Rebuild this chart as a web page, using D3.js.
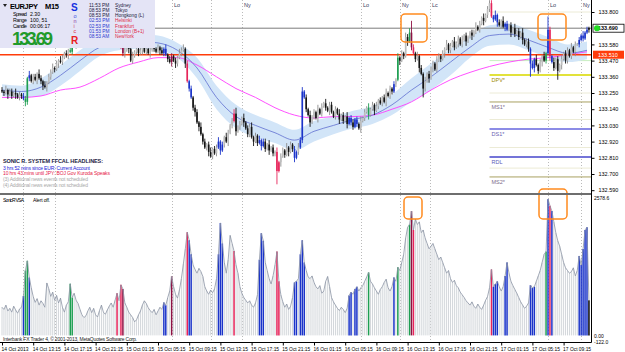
<!DOCTYPE html>
<html><head><meta charset="utf-8">
<script src="https://cdn.jsdelivr.net/npm/d3@7"></script>
<style>
body{margin:0;background:#fff}
svg{display:block;font-family:"Liberation Sans",Arial,sans-serif}
</style></head><body>
<svg id="chart" width="625" height="352"></svg>
<script>
// EURJPY M15 - closes in pips above 133.00, one per bar
var closes = [
  26,25,27,24,26,23,25,24,22,24, 23,21,19,35,37,33,36,34,38,35,
  33,30,29,32,36,39,42,41,45,47, 46,49,52,51,54,53,59,57,60,58,
  61,60,62,59,61,63,60,58,61,64, 62,60,63,61,59,62,64,61,60,62,
  59,56,52,54,57,55,47,50,53,55, 52,54,56,53,55,52,54,57,55,53,
  56,54,52,55,51,48,46,50,47,45, 49,52,54,55,45,33,28,22,15,12,
  5,2,-3,-8,-12,-10,-15,-18,-13,-16, -12,-8,-14,-10,-5,-8,-2,3,6,11,
  -1,2,4,8,5,1,-3,2,-5,-8, -4,-9,-7,-11,-8,-13,-10,-14,-12,-16,
  -15,-28,-22,-18,-14,-17,-12,-15,-10,-13, -19,-15,-12,-7,26,22,14,10,5,9,
  12,8,14,11,16,18,15,13,17,12, 9,14,11,7,10,6,9,4,8,5,
  2,7,4,1,6,8,12,15,10,14, 17,13,16,20,18,22,19,25,23,28,
  26,31,34,49,47,52,50,63,60,66, 56,52,48,50,42,38,28,33,38,35,
  42,45,41,47,50,48,52,55,58,54, 57,60,56,59,62,58,61,64,60,63,
  66,64,67,70,68,72,76,74,78,82, 86,77,75,78,73,71,74,70,72,68,
  71,66,69,65,67,63,66,61,58,60, 55,45,42,48,44,40,46,50,47,52,
  68,50,46,42,48,40,44,48,52,47, 54,50,56,53,58,58,61,64,62,66,
  68,69
];
var firstOpen = 27;
// wick lengths in pips, one digit per bar, ten bars per chunk
var upWick = [
  "2131221312","1221312213","2131223121","3212131223","2312213121",
  "3121231212","2132121312","1213212131","2121312212","1323121212",
  "2131212312","2312132123","4121312231","2131221312","1312213121",
  "2132312131","2131213122","1213121312","2121312131","2131212312",
  "1213121323","8213121312","1213212131","2131213121","1213121312",
  "2213121312","1213121312","2121312131","9213121312","2131212131","21"].join('');
var downWick = [
  "1213121312","2132212131","2313121213","1212312121","2121312123",
  "1312121312","2123131212","2131213121","1312121313","2121312123",
  "1312123121","2131213121","3121312213","1213121312","2913121312",
  "3121212131","2131212131","1213121312","2121312131","1312121312",
  "2121312131","2121316213","1312121312","2121312131","1312121312",
  "2121312131","1312121312","2913121312","1312161312","2121312121","12"].join('');
var volumes = [
  520,480,560,450,500,430,540,470,410,490,520,730,1200,1380,1070,880,720,610,680,560,
  640,590,520,970,860,720,800,650,740,600,690,520,430,560,620,955,700,780,650,590,
  480,380,330,360,450,520,420,500,380,340,460,560,430,390,470,540,600,520,650,780,
  640,935,860,600,520,430,380,330,250,290,380,450,560,640,590,510,460,420,480,380,
  450,520,480,610,560,700,820,1090,900,760,690,840,1050,1320,1600,1910,1760,1500,1300,1220,
  1150,1240,1180,1090,900,820,760,840,790,860,1050,1500,2080,1700,1350,1150,1400,1850,1700,1560,
  1300,1150,900,780,700,650,600,640,560,520,600,750,1400,1890,1750,1350,1200,1050,950,1100,
  1300,1550,1000,750,620,520,580,480,540,700,980,1000,1050,1500,1760,1350,1200,1080,1050,1100,
  980,900,860,920,780,820,1000,1090,900,700,620,560,500,460,520,480,420,500,740,800,
  760,860,900,820,880,920,1000,1080,1165,1000,950,880,820,760,850,900,980,1040,880,820,
  900,1070,1000,1260,1200,1350,1500,1800,2000,2050,2300,1950,2150,2050,2100,1900,1950,1800,1700,1600,
  1650,1700,1600,1500,1400,1450,1350,1250,1150,1200,1050,980,1020,920,880,800,750,700,640,600,
  560,620,540,500,580,520,480,560,650,720,880,1220,900,950,1000,900,820,900,1100,1350,
  1150,1000,920,850,780,700,620,560,500,540,600,930,880,900,1000,1100,1200,1350,1500,1550,
  2520,2400,2300,2100,1900,1750,1650,1500,1350,1250,1200,1150,1180,1250,1100,1200,1470,1300,1600,1950,
  2000,650
];
var blueBars = [11,14,83,84,96,97,111,112,113,132,133,134,150,151,153,154,155,178,179,181,182,201,252,253,254,258,259,271,272,273,280,282,296,297,298,299,300];
var redBars = [59,61,95,119,141,142,211,251,281];
var greenBars = [12,13,35,36,188,203,209,279];
var maroonBars = [62,87,210];
var blackBars = [301];

// moving averages read every 10 bars (pips above 133.00)
var maStep = 10;
var emaFast  = [27,26,29,37,47,56,59,60,59,54,42,22,9,3,-2,-7,-1,3,7,10,17,27,36,46,56,64,65,61,56,52,54];
var dragonHi = [31,30,35,44,54,62,64,65,64,59,49,30,17,10,5,0,6,9,13,16,24,35,45,55,63,71,72,68,63,58,60];
var dragonLo = [23,22,23,30,40,50,54,55,54,49,35,14,1,-5,-9,-14,-8,-3,1,4,10,19,27,37,49,57,58,54,49,46,48];
var emaSlow  = [22,22,23,27,29,35,42,46,49,49,44,36,28,22,15,10,8,9,9,10,14,19,27,34,39,43,46,48,49,51,53];

var priceTicks = [133.80,133.58,133.47,133.36,133.25,133.14,133.03,132.92,132.81,132.70,132.59];
var timeBars = [0,16,32,48,64,80,96,112,128,144,160,176,192,208,224,240,256,272,288];
var timeLabels = ["14 Oct 2013","14 Oct 13:15","14 Oct 17:15","14 Oct 21:15","15 Oct 01:15","15 Oct 05:15",
  "15 Oct 09:15","15 Oct 13:15","15 Oct 17:15","15 Oct 21:15","16 Oct 01:15","16 Oct 05:15","16 Oct 09:15",
  "16 Oct 13:15","16 Oct 17:15","16 Oct 21:15","17 Oct 01:15","17 Oct 05:15","17 Oct 09:15"];
// the first two session labels sit under the info box, so they stay blank
var sessionBars = [11,27,87,107,123,184,204,219.5,280,297];
var sessionNames = ["","","Lo","","Ny","Lo","Ny","Lc","Lo","Ny"];
var pivotNames = ["DPV*","MS1*","DS1*","RDL","MS2*"];
var pivotPrices = [133.372,133.189,133.006,132.816,132.680];
var pivotColors = ["#e2e23a","#a8a060","#8c8ce6","#7474d8","#a8a060"];
var pivotText = ["#a08a00","#7a6a8a","#6a60b0","#5a5ab8","#7a6a8a"];
var faintLevels = [133.80,133.47,133.25,133.07,132.88,132.74];
var bidPrice = 133.69, redLevel = 133.51;
var volMax = 2578.6, volMin = -122.0;
var cities = ["Sydney","Tokyo","Hongkong (L)","Helsinki","Frankfurt","London (B+1)","NewYork"];
var cityTimes = ["11:53 PM","08:53 PM","08:53 PM","02:53 PM","02:53 PM","01:53 PM","08:53 AM"];
var headlines = ["3 hrs 52 mins since EUR: Current Account","10 hrs 43 mins until JPY: BOJ Gov Kuroda Speaks",
  "(3)  Additional news events not scheduled","(4)  Additional news events not scheduled"];

var svg = d3.select('#chart');
var right = 591, panelBot = 193.5, volTop = 196, volBot = 342;
var narrow = '"Liberation Sans Narrow","Liberation Sans",Arial,sans-serif';

var x = d3.scaleLinear().domain([0, 301]).range([2, 2 + 301 * 1.95]);
var y = d3.scaleLinear().domain([132.70, 133.80]).range([174, 12]);
var vy = d3.scaleLinear().domain([volMin, volMax]).range([volBot, volTop]);
var py = function (p) { return y(133 + p / 100); };

var signal = closes.map(function () { return null; });
blueBars.forEach(function (i) { signal[i] = 'b'; });
redBars.forEach(function (i) { signal[i] = 'r'; });
greenBars.forEach(function (i) { signal[i] = 'g'; });
maroonBars.forEach(function (i) { signal[i] = 'm'; });
blackBars.forEach(function (i) { signal[i] = 'k'; });
var sigColor = {b: '#1b34c9', r: '#e6245a', g: '#1e9e52', m: '#8e1244', k: '#000'};

var bars = closes.map(function (c, i) {
  var o = i ? closes[i - 1] : firstOpen;
  var hw = +upWick[i] || 1, lw = +downWick[i] || 1;
  return {i: i, o: o, c: c, h: Math.max(o, c) + hw, l: Math.min(o, c) - lw, s: signal[i]};
});

svg.append('defs').append('clipPath').attr('id', 'topclip')
  .append('rect').attr('x', 0).attr('y', 0).attr('width', right).attr('height', panelBot);

// session lines
svg.selectAll('.sess').data(sessionBars).enter().append('line')
  .attr('x1', function (d) { return Math.round(x(d)) + 0.5; })
  .attr('x2', function (d) { return Math.round(x(d)) + 0.5; })
  .attr('y1', 0).attr('y2', volBot)
  .style('stroke', '#a8a8a8').style('stroke-width', 0.8).style('stroke-dasharray', '1,2');

var pricePanel = svg.append('g').attr('clip-path', 'url(#topclip)');

// faint levels and pivots on the right
pricePanel.selectAll('.faint').data(faintLevels).enter().append('line')
  .attr('x1', x(250)).attr('x2', right).attr('y1', function (d) { return y(d); }).attr('y2', function (d) { return y(d); })
  .style('stroke', function (d, i) { return i == 1 ? '#c8eec0' : '#ecebd6'; }).style('stroke-width', 1);
pricePanel.selectAll('.piv').data(pivotPrices).enter().append('line')
  .attr('x1', x(250)).attr('x2', right).attr('y1', function (d) { return y(d); }).attr('y2', function (d) { return y(d); })
  .style('stroke', function (d, i) { return pivotColors[i]; })
  .style('stroke-width', function (d, i) { return (i == 1 || i == 4) ? 1 : 2; });
pricePanel.selectAll('.pivt').data(pivotPrices).enter().append('text')
  .attr('x', x(250) + 2).attr('y', function (d) { return y(d) + 7; })
  .text(function (d, i) { return pivotNames[i]; })
  .style('font-size', '5.5px').style('fill', function (d, i) { return pivotText[i]; });

// dragon band and averages
var maPts = function (arr) { return arr.map(function (v, k) { return [x(k * maStep), py(v)]; }); };
pricePanel.append('path')
  .attr('d', d3.area().x(function (d, k) { return x(k * maStep); })
    .y0(function (d, k) { return py(dragonLo[k]); }).y1(function (d) { return py(d); })
    .curve(d3.curveMonotoneX)(dragonHi))
  .style('fill', '#d2e5f8');
pricePanel.append('path').attr('d', d3.line().curve(d3.curveMonotoneX)(maPts(emaSlow)))
  .style('fill', 'none').style('stroke', '#ff3cff').style('stroke-width', 0.9);
pricePanel.append('path').attr('d', d3.line().curve(d3.curveMonotoneX)(maPts(emaFast)))
  .style('fill', 'none').style('stroke', '#5f6fd0').style('stroke-width', 0.8);

// horizontal price lines
pricePanel.append('line').attr('x1', 0).attr('x2', right).attr('y1', y(bidPrice)).attr('y2', y(bidPrice))
  .style('stroke', '#7c7c7c').style('stroke-width', 1);
pricePanel.append('line').attr('x1', 0).attr('x2', right).attr('y1', y(redLevel)).attr('y2', y(redLevel))
  .style('stroke', '#ff3c0a').style('stroke-width', 1.6);

// candles
var candle = pricePanel.selectAll('.candle').data(bars).enter().append('g');
candle.append('line')
  .attr('x1', function (d) { return x(d.i); }).attr('x2', function (d) { return x(d.i); })
  .attr('y1', function (d) { return py(d.h); }).attr('y2', function (d) { return py(d.l); })
  .style('stroke', function (d) { return d.s ? sigColor[d.s] : (d.c >= d.o ? '#8c8c8c' : '#141414'); })
  .style('stroke-width', 0.9);
candle.append('rect')
  .attr('x', function (d) { return x(d.i) - 0.8; }).attr('width', 1.6)
  .attr('y', function (d) { return py(Math.max(d.o, d.c)); })
  .attr('height', function (d) { return Math.max(1, Math.abs(py(d.o) - py(d.c))); })
  .style('fill', function (d) { return d.s ? sigColor[d.s] : (d.c >= d.o ? '#bebebe' : '#141414'); });

// session labels
svg.selectAll('.sessl').data(sessionBars.filter(function (d, i) { return sessionNames[i]; }))
  .enter().append('text')
  .attr('x', function (d) { return Math.round(x(d)) + 2; }).attr('y', 7)
  .text(function (d) { return sessionNames[sessionBars.indexOf(d)]; })
  .style('font-size', '5.5px').style('fill', '#3a3a5a');

// volume panel
var vol = svg.append('g');
vol.selectAll('.vb').data(volumes).enter().append('line')
  .attr('x1', function (d, i) { return x(i); }).attr('x2', function (d, i) { return x(i); })
  .attr('y1', vy(0)).attr('y2', function (d) { return vy(d); })
  .style('stroke', function (d, i) { return signal[i] ? sigColor[signal[i]] : '#d3d7db'; })
  .style('stroke-width', function (d, i) { return signal[i] ? 1.5 : 1; });
vol.append('path')
  .attr('d', d3.line().x(function (d, i) { return x(i); }).y(function (d) { return vy(d); })(volumes))
  .style('fill', 'none').style('stroke', '#8a93a3').style('stroke-width', 0.8);

// orange highlight boxes
var boxes = [[401, 14, 26, 28], [538, 14, 28, 26], [404, 197, 18, 22], [539, 189, 28, 30]];
svg.selectAll('.ob').data(boxes).enter().append('rect')
  .attr('x', function (d) { return d[0]; }).attr('y', function (d) { return d[1]; })
  .attr('width', function (d) { return d[2]; }).attr('height', function (d) { return d[3]; })
  .attr('rx', 4).style('fill', 'none').style('stroke', '#ff8a1e').style('stroke-width', 1.5);

// frame
svg.append('rect').attr('x', 0).attr('y', 193).attr('width', right).attr('height', 2).style('fill', '#6e6e6e');
svg.append('line').attr('x1', right + 0.5).attr('x2', right + 0.5).attr('y1', 0).attr('y2', volBot + 0.5)
  .style('stroke', '#000');
svg.append('line').attr('x1', 0).attr('x2', right + 0.5).attr('y1', volBot + 0.5).attr('y2', volBot + 0.5)
  .style('stroke', '#000');

// price axis
var pa = svg.append('g').attr('transform', 'translate(' + (right + 0.5) + ',0)')
  .call(d3.axisRight(y).tickValues(priceTicks).tickFormat(d3.format('.3f')).tickSize(3).tickPadding(4));
pa.select('.domain').remove();
pa.selectAll('text').style('font-size', '5.5px').style('font-family', '"Liberation Sans",Arial,sans-serif');
pa.selectAll('line').style('stroke', '#000');

svg.append('rect').attr('x', 593).attr('y', y(bidPrice) - 4).attr('width', 31).attr('height', 8)
  .style('fill', '#fff').style('stroke', '#000').style('stroke-width', 0.8);
svg.append('text').attr('x', 598).attr('y', y(bidPrice) + 2).text(d3.format('.3f')(bidPrice))
  .style('font-size', '5.5px').style('font-weight', 'bold');
svg.append('rect').attr('x', 593).attr('y', y(redLevel) - 4).attr('width', 31).attr('height', 8)
  .style('fill', '#ff3c0a');
svg.append('text').attr('x', 598).attr('y', y(redLevel) + 2).text(d3.format('.3f')(redLevel))
  .style('font-size', '5.5px').style('fill', '#fff');
svg.append('circle').attr('cx', 597).attr('cy', y(bidPrice)).attr('r', 3).style('fill', '#22dd22');

// volume axis
[[volMax, '2578.6', 1.5], [0, '0.00', 0.5], [volMin, '-122.0', -0.5]].forEach(function (t) {
  svg.append('text').attr('x', 594).attr('y', vy(t[0]) + 2 + t[2]).text(t[1]).style('font-size', '5px');
});

// time axis
var ta = svg.append('g').attr('transform', 'translate(0,' + (volBot + 0.5) + ')')
  .call(d3.axisBottom(x).tickValues(timeBars).tickFormat(function (d, i) { return timeLabels[i]; }).tickSize(3));
ta.select('.domain').remove();
ta.selectAll('text').style('font-size', '5.2px').style('text-anchor', 'start')
  .style('font-family', narrow).attr('dy', '0.55em').attr('x', -1)
  .attr('textLength', function (d, i) { return i ? 28 : 27; }).attr('lengthAdjust', 'spacingAndGlyphs');
ta.selectAll('line').style('stroke', '#000');

svg.append('text').attr('x', 3).attr('y', 340.5)
  .text('Interbank FX Trader 4, \u00a9 2001-2013, MetaQuotes Software Corp.')
  .attr('textLength', 134).style('font-size', '5px').style('fill', '#222');
svg.append('text').attr('x', 3).attr('y', 202).text('SonicR VSA').attr('textLength', 21).style('font-size', '5px');
svg.append('text').attr('x', 33).attr('y', 202).text('Alert off.').attr('textLength', 17).style('font-size', '5px');

// headlines
svg.append('text').attr('x', 3).attr('y', 163).text('SONIC R. SYSTEM  FFCAL HEADLINES:')
  .attr('textLength', 100).style('font-size', '5.5px').style('font-weight', 'bold').style('fill', '#1c1c44');
svg.selectAll('.hl').data(headlines).enter().append('text')
  .attr('x', 3).attr('y', function (d, i) { return 169.5 + i * 5.8; })
  .text(function (d) { return d; })
  .attr('textLength', function (d, i) { return [87, 107, 85, 85][i]; })
  .style('font-size', '5px')
  .style('fill', function (d, i) { return ['#2222d8', '#e61a48', '#a8a8a8', '#a8a8a8'][i]; });

// info box
var info = svg.append('g');
info.append('rect').attr('x', 0).attr('y', 0).attr('width', 155).attr('height', 48).style('fill', '#e4e4f6');
info.append('path').attr('d', 'M3,4 L7,4 L5,7 Z').style('fill', '#222');
info.append('text').attr('x', 10).attr('y', 9).text('EURJPY').attr('textLength', 28)
  .style('font-size', '7.5px').style('font-weight', 'bold');
info.append('text').attr('x', 45).attr('y', 9).text('M15').attr('textLength', 14)
  .style('font-size', '7.5px').style('font-weight', 'bold');
[['Spread', '2.30'], ['Range', '100, 51'], ['Candle', '00:06:17']].forEach(function (r, k) {
  info.append('text').attr('x', 13).attr('y', 16 + k * 6.2).text(r[0]).attr('textLength', 14).style('font-size', '5.2px');
  info.append('text').attr('x', 30).attr('y', 16 + k * 6.2).text(r[1]).style('font-size', '5.2px');
});
info.append('text').attr('x', 12).attr('y', 45).text('133.69')
  .style('font-family', narrow)
  .attr('textLength', 41).style('font-size', '18px').style('font-weight', 'bold').style('fill', '#1f9a2a');
info.append('text').attr('x', 71).attr('y', 11).text('S').style('font-size', '10px').style('font-weight', 'bold').style('fill', '#1430e0');
['o', 'n', 'i', 'c'].forEach(function (ch, k) {
  info.append('text').attr('x', 73.5).attr('y', 17.5 + k * 5.3).text(ch).style('font-size', '5.5px')
    .style('fill', ['#3a50e0', '#8a40a0', '#c83a70', '#e02a40'][k]);
});
info.append('text').attr('x', 71).attr('y', 44).text('R').style('font-size', '10px').style('font-weight', 'bold').style('fill', '#e82020');
cityTimes.forEach(function (t, k) {
  var late = k >= 3;
  info.append('text').attr('x', 89).attr('y', 6.5 + k * 5.3).text(t).style('font-size', '4.8px')
    .style('fill', late ? '#2a3ad0' : '#202040');
  info.append('text').attr('x', 115).attr('y', 6.5 + k * 5.3).text(cities[k]).style('font-size', '4.8px')
    .style('fill', late ? '#e02a48' : '#202040');
});
</script>
</body></html>
